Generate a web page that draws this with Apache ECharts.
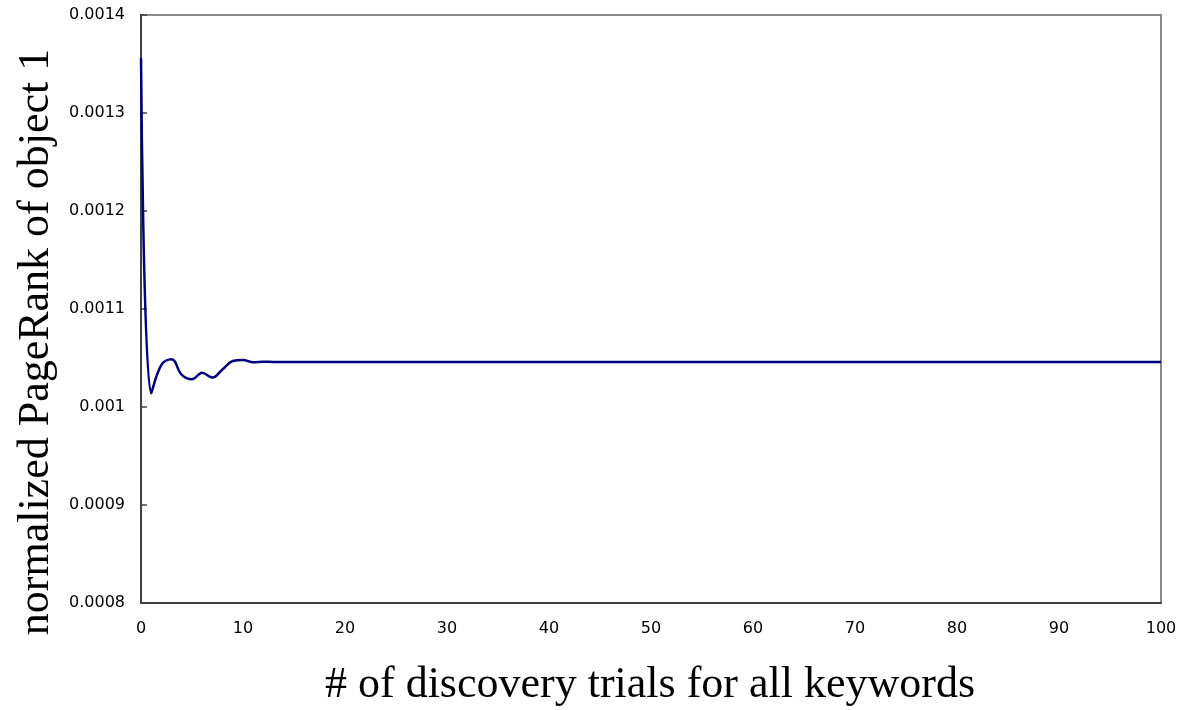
<!DOCTYPE html>
<html>
<head>
<meta charset="utf-8">
<script src="https://cdn.jsdelivr.net/npm/echarts@6/dist/echarts.min.js"></script>
<style>
  html, body { margin: 0; padding: 0; background: #ffffff; }
  #chart { width: 1185px; height: 710px; }
</style>
</head>
<body>
<div id="chart"></div>
<script>
// Number of discovery trials (0..100)
const trials = [];
for (let i = 0; i <= 100; i++) trials.push(i);

// Normalized PageRank of object 1 after each trial
const pageRank = [
  0.001356, 0.001014, 0.001043, 0.0010487, 0.0010327, 0.0010283, 0.001035, 0.00103, 0.0010385, 0.0010469,
  0.001048, 0.0010456, 0.0010462, 0.001046, 0.001046, 0.001046, 0.001046, 0.001046, 0.001046, 0.001046,
  0.001046, 0.001046, 0.001046, 0.001046, 0.001046, 0.001046, 0.001046, 0.001046, 0.001046, 0.001046,
  0.001046, 0.001046, 0.001046, 0.001046, 0.001046, 0.001046, 0.001046, 0.001046, 0.001046, 0.001046,
  0.001046, 0.001046, 0.001046, 0.001046, 0.001046, 0.001046, 0.001046, 0.001046, 0.001046, 0.001046,
  0.001046, 0.001046, 0.001046, 0.001046, 0.001046, 0.001046, 0.001046, 0.001046, 0.001046, 0.001046,
  0.001046, 0.001046, 0.001046, 0.001046, 0.001046, 0.001046, 0.001046, 0.001046, 0.001046, 0.001046,
  0.001046, 0.001046, 0.001046, 0.001046, 0.001046, 0.001046, 0.001046, 0.001046, 0.001046, 0.001046,
  0.001046, 0.001046, 0.001046, 0.001046, 0.001046, 0.001046, 0.001046, 0.001046, 0.001046, 0.001046,
  0.001046, 0.001046, 0.001046, 0.001046, 0.001046, 0.001046, 0.001046, 0.001046, 0.001046, 0.001046,
  0.001046
];

const yTicks = ['0.0008', '0.0009', '0.001', '0.0011', '0.0012', '0.0013', '0.0014'];

const xTitle = '# of discovery trials for all keywords';
const yTitle = 'normalized PageRank of object 1';

const points = trials.map((t, i) => [t, pageRank[i]]);

const chart = echarts.init(document.getElementById('chart'), null, { renderer: 'canvas' });

const labelFont = { fontFamily: 'DejaVu Sans', fontSize: 16, color: '#000000' };
const titleFamily = 'Liberation Serif';
const titleSize = 44;

chart.setOption({
  animation: false,
  backgroundColor: '#ffffff',
  grid: {
    left: 141, top: 15, right: 24, bottom: 107,
    show: true, borderColor: '#8a8a8a', borderWidth: 2, backgroundColor: 'transparent'
  },
  graphic: [
    {
      type: 'text',
      x: 650, y: 685,
      style: {
        text: xTitle,
        font: titleSize + 'px "' + titleFamily + '"',
        fill: '#000000',
        align: 'center',
        verticalAlign: 'middle'
      }
    },
    {
      type: 'text',
      x: 36, y: 342,
      rotation: Math.PI / 2,
      style: {
        text: yTitle,
        font: titleSize + 'px "' + titleFamily + '"',
        fill: '#000000',
        align: 'center',
        verticalAlign: 'middle'
      }
    }
  ],
  xAxis: {
    type: 'value',
    min: 0, max: 100, interval: 10,
    axisLine: { show: true, lineStyle: { color: '#404040', width: 2 } },
    axisTick: { show: false },
    splitLine: { show: false },
    axisLabel: Object.assign({ margin: 18 }, labelFont)
  },
  yAxis: {
    type: 'value',
    min: 0.0008, max: 0.0014, interval: 0.0001,
    axisLine: { show: true, lineStyle: { color: '#404040', width: 2 } },
    axisTick: { show: true, inside: true, length: 6, lineStyle: { color: '#404040', width: 1.5 } },
    splitLine: { show: false },
    axisLabel: Object.assign({
      margin: 16,
      formatter: (v) => {
        const idx = Math.round((v - 0.0008) / 0.0001);
        return yTicks[idx] !== undefined ? yTicks[idx] : '';
      }
    }, labelFont)
  },
  series: [{
    type: 'line',
    data: points,
    smooth: 0.4,
    showSymbol: false,
    lineStyle: { color: '#000080', width: 2.5 }
  }]
});
</script>
</body>
</html>
